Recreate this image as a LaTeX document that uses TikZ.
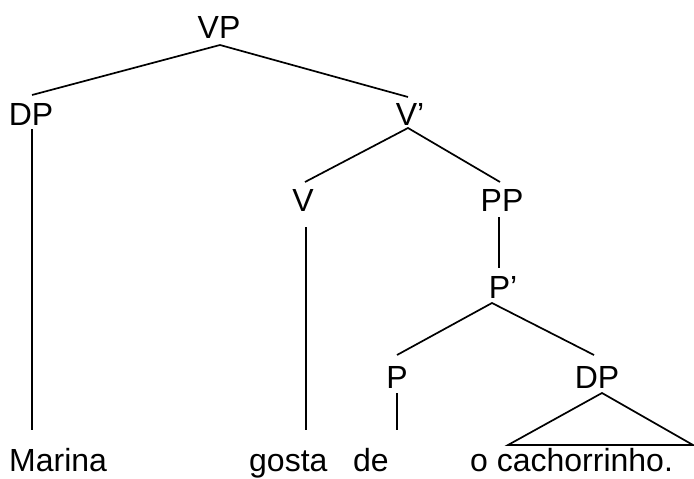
\documentclass[tikz,border=0pt]{standalone}
\usepackage{fontspec}
\setmainfont{Liberation Sans}
\begin{document}
\begin{tikzpicture}[x=1pt,y=-1pt,
  lbl/.style={anchor=base,inner sep=0pt,font=\fontsize{32}{38}\selectfont},
  wrd/.style={anchor=base west,inner sep=0pt,font=\fontsize{32}{38}\selectfont},
  edge/.style={line width=1.7pt}]
\useasboundingbox (0,0) rectangle (694,479);
% labels
\node[lbl] (VP) at (219,38) {VP};
\node[lbl] (DPa) at (31,125) {DP};
\node[lbl] (Vb) at (410,125) {V’};
\node[lbl] (V) at (303,211) {V};
\node[lbl] (PP) at (502,211) {PP};
\node[lbl] (Pb) at (503,298) {P’};
\node[lbl] (P) at (397,388) {P};
\node[lbl] (DPb) at (597,388) {DP};
\node[wrd] (w1) at (9,471.5) {Marina};
\node[wrd] (w2) at (249,471.5) {gosta};
\node[wrd] (w3) at (353,471.5) {de};
\node[wrd] (w4) at (470,471.5) {o cachorrinho.};
% connector end points
\coordinate (VPs) at (220,45);
\coordinate (DPan) at (32,95);
\coordinate (DPas) at (32,129);
\coordinate (Vbn) at (408,97);
\coordinate (Vbs) at (408,128);
\coordinate (Vn) at (305,182);
\coordinate (Vs) at (306,227);
\coordinate (PPn) at (500,182);
\coordinate (PPs) at (499,217);
\coordinate (Pbn) at (499,268);
\coordinate (Pbs) at (492,303);
\coordinate (Pn) at (397,355);
\coordinate (Ps) at (397,393);
\coordinate (DPbn) at (594,355);
\coordinate (DPbs) at (602,393);
\coordinate (w1n) at (32,430);
\coordinate (w2n) at (306,430);
\coordinate (w3n) at (397,430);
\coordinate (triL) at (508,445);
\coordinate (triR) at (693,445);
% connectors
\draw[edge] (DPan) -- (VPs) -- (Vbn);
\draw[edge] (DPas) -- (w1n);
\draw[edge] (Vn) -- (Vbs) -- (PPn);
\draw[edge] (Vs) -- (w2n);
\draw[edge] (PPs) -- (Pbn);
\draw[edge] (Pn) -- (Pbs) -- (DPbn);
\draw[edge] (Ps) -- (w3n);
\draw[edge] (DPbs) -- (triL) -- (triR) -- cycle;
\end{tikzpicture}
\end{document}
